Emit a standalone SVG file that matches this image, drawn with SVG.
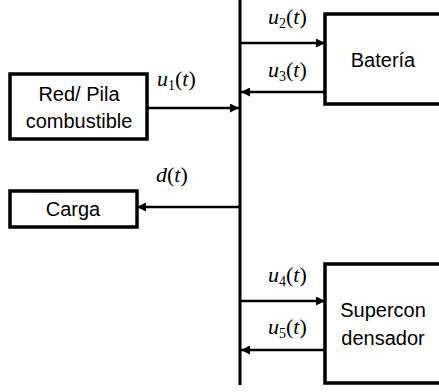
<svg xmlns="http://www.w3.org/2000/svg" width="439" height="392" viewBox="0 0 439 392">
<style>
.box{fill:#fff;stroke:#000;stroke-width:3.5}
.ln{stroke:#000;stroke-width:2.5;fill:none}
.t{font-family:"Liberation Sans",Arial,sans-serif;font-size:20px;fill:#000;text-anchor:middle}
.m{font-family:"Liberation Serif","Times New Roman",serif;font-size:22px;fill:#000}
.i{font-style:italic}
.s{font-size:14px}
</style>
<defs>
<marker id="ah" viewBox="0 0 10 10" refX="10" refY="5" markerWidth="4" markerHeight="3.6" orient="auto" markerUnits="strokeWidth">
<path d="M0,0L10,5L0,10z" fill="#000"/>
</marker>
</defs>
<rect width="439" height="392" fill="#fff"/>
<g id="connectors">
<line class="ln" x1="240" y1="0" x2="240" y2="385" style="stroke-width:3"/>
<line class="ln" x1="147" y1="108" x2="239" y2="108" marker-end="url(#ah)"/>
<line class="ln" x1="240" y1="43" x2="325" y2="43" marker-end="url(#ah)"/>
<line class="ln" x1="325" y1="92" x2="241" y2="92" marker-end="url(#ah)"/>
<line class="ln" x1="240" y1="207" x2="137" y2="207" marker-end="url(#ah)"/>
<line class="ln" x1="240" y1="301" x2="325" y2="301" marker-end="url(#ah)"/>
<line class="ln" x1="325" y1="350" x2="241" y2="350" marker-end="url(#ah)"/>
</g>
<g id="labels">
<text class="m" x="157" y="86"><tspan class="i">u</tspan><tspan class="s" dy="4">1</tspan><tspan dy="-4">(</tspan><tspan class="i">t</tspan>)</text>
<text class="m" x="268" y="24"><tspan class="i">u</tspan><tspan class="s" dy="4">2</tspan><tspan dy="-4">(</tspan><tspan class="i">t</tspan>)</text>
<text class="m" x="268" y="77"><tspan class="i">u</tspan><tspan class="s" dy="4">3</tspan><tspan dy="-4">(</tspan><tspan class="i">t</tspan>)</text>
<text class="m" x="156" y="182"><tspan class="i">d</tspan>(<tspan class="i">t</tspan>)</text>
<text class="m" x="268" y="282"><tspan class="i">u</tspan><tspan class="s" dy="4">4</tspan><tspan dy="-4">(</tspan><tspan class="i">t</tspan>)</text>
<text class="m" x="268" y="334"><tspan class="i">u</tspan><tspan class="s" dy="4">5</tspan><tspan dy="-4">(</tspan><tspan class="i">t</tspan>)</text>
</g>
<g id="red">
<rect class="box" x="10" y="74" width="137" height="65"/>
<text class="t" x="79" y="101">Red/ Pila</text>
<text class="t" x="79" y="128">combustible</text>
</g>
<g id="carga">
<rect class="box" x="10" y="191" width="127" height="36"/>
<text class="t" x="73" y="216">Carga</text>
</g>
<g id="bateria">
<rect class="box" x="325" y="14" width="130" height="90"/>
<text class="t" x="383" y="67">Batería</text>
</g>
<g id="supercondensador">
<rect class="box" x="325" y="264" width="130" height="119"/>
<text class="t" x="383" y="317">Supercon</text>
<text class="t" x="383" y="345">densador</text>
</g>
</svg>
